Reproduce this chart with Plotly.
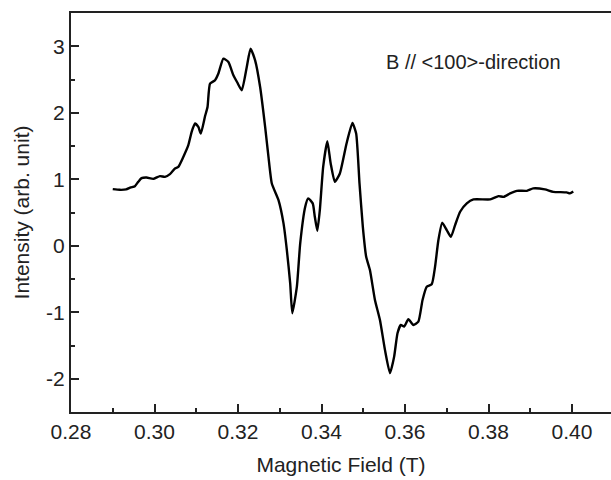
import plotly.graph_objects as go

# Magnetic field (T)
field = [0.2900, 0.2917, 0.2932, 0.2943, 0.2953, 0.2961, 0.2969, 0.2981, 0.2997, 0.3013,
         0.3025, 0.3037, 0.3049, 0.3057, 0.3069, 0.3081, 0.3089, 0.3097, 0.3105, 0.3111,
         0.3121, 0.3127, 0.3133, 0.3145, 0.3153, 0.3165, 0.3177, 0.3189, 0.3198, 0.3209,
         0.3221, 0.3230, 0.3241, 0.3253, 0.3265, 0.3273, 0.3281, 0.3297, 0.3309, 0.3317,
         0.3325, 0.3330, 0.3341, 0.3349, 0.3361, 0.3368, 0.3379, 0.3384, 0.3390, 0.3396,
         0.3404, 0.3414, 0.3422, 0.3432, 0.3444, 0.3460, 0.3474, 0.3483, 0.3491, 0.3499,
         0.3507, 0.3516, 0.3528, 0.3540, 0.3552, 0.3564, 0.3574, 0.3582, 0.3590, 0.3598,
         0.3608, 0.3620, 0.3632, 0.3642, 0.3652, 0.3664, 0.3672, 0.3680, 0.3689, 0.3700,
         0.3710, 0.3720, 0.3732, 0.3748, 0.3764, 0.3804, 0.3824, 0.3836, 0.3852, 0.3868,
         0.3892, 0.3907, 0.3935, 0.3955, 0.3987, 0.3995, 0.4003]

# Intensity (arb. unit)
intensity = [0.851, 0.841, 0.847, 0.877, 0.896, 0.961, 1.017, 1.027, 1.006, 1.047,
             1.036, 1.077, 1.162, 1.186, 1.336, 1.512, 1.712, 1.838, 1.787, 1.688,
             1.947, 2.087, 2.438, 2.488, 2.589, 2.814, 2.763, 2.563, 2.458, 2.338,
             2.688, 2.964, 2.788, 2.387, 1.787, 1.336, 0.937, 0.686, 0.336, -0.065,
             -0.565, -1.015, -0.616, 0.036, 0.586, 0.712, 0.637, 0.435, 0.225, 0.536,
             1.186, 1.572, 1.237, 0.961, 1.087, 1.538, 1.847, 1.688, 0.937, 0.285,
             -0.165, -0.365, -0.815, -1.116, -1.566, -1.916, -1.667, -1.315, -1.191, -1.216,
             -1.105, -1.191, -1.141, -0.815, -0.616, -0.580, -0.315, 0.086, 0.345, 0.236,
             0.135, 0.311, 0.511, 0.637, 0.697, 0.697, 0.746, 0.736, 0.787, 0.826,
             0.826, 0.862, 0.847, 0.811, 0.802, 0.787, 0.817]

x_tickvals = [0.28, 0.30, 0.32, 0.34, 0.36, 0.38, 0.40]
x_ticktext = ["0.28", "0.30", "0.32", "0.34", "0.36", "0.38", "0.40"]
y_tickvals = [-2, -1, 0, 1, 2, 3]
y_ticktext = ["-2", "-1", "0", "1", "2", "3"]

font_family = "Liberation Sans, Arial, sans-serif"

fig = go.Figure()
fig.add_trace(go.Scatter(
    x=field, y=intensity, mode="lines",
    line=dict(color="black", width=2.4, shape="spline", smoothing=0.5),
    showlegend=False, hoverinfo="skip",
))

fig.add_annotation(
    x=0.3763, y=2.77, xref="x", yref="y",
    text="B // &lt;100&gt;-direction", showarrow=False,
    font=dict(family=font_family, size=20, color="#222"),
)

fig.update_layout(
    width=611, height=480,
    margin=dict(l=71, r=0, t=13, b=68),
    plot_bgcolor="white", paper_bgcolor="white",
    font=dict(family=font_family, size=21, color="#222"),
    xaxis=dict(
        range=[0.28, 0.40934], automargin=False,
        tickvals=x_tickvals, ticktext=x_ticktext,
        ticks="inside", ticklen=8, tickwidth=1.5, tickcolor="#222",
        minor=dict(ticks="inside", ticklen=4, tickwidth=1.5, tickcolor="#222", dtick=0.01, tick0=0.28),
        showline=True, linecolor="#222", linewidth=2, mirror=True,
        showgrid=False, zeroline=False,
        title=dict(text="Magnetic Field (T)", font=dict(size=21)),
        tickfont=dict(size=21),
    ),
    yaxis=dict(
        range=[-2.5, 3.5], automargin=False,
        tickvals=y_tickvals, ticktext=y_ticktext,
        ticks="inside", ticklen=8, tickwidth=1.5, tickcolor="#222",
        minor=dict(ticks="inside", ticklen=4, tickwidth=1.5, tickcolor="#222", dtick=0.5, tick0=0),
        showline=True, linecolor="#222", linewidth=2, mirror=False,
        showgrid=False, zeroline=False,
        title=dict(text="Intensity (arb. unit)", font=dict(size=21), standoff=11),
        tickfont=dict(size=21),
    ),
)

fig.write_html(
    "out.html",
    config={"displayModeBar": False},
    post_script="document.body.style.margin='0px';document.body.style.overflow='hidden';",
)
